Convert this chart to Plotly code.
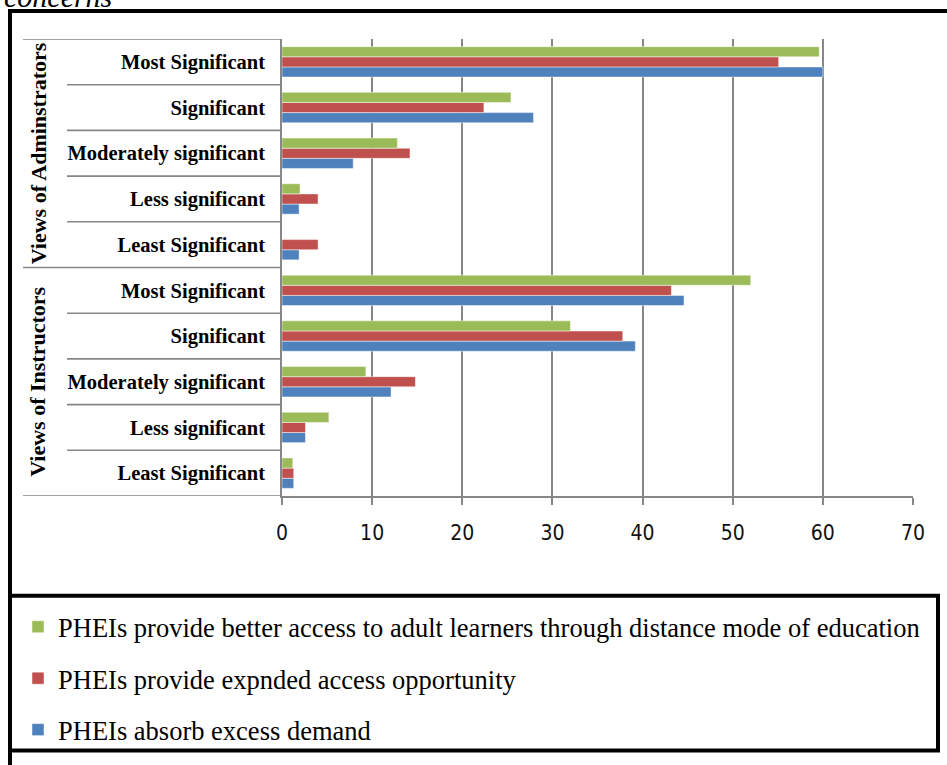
import plotly.graph_objects as go

# Categories listed top to bottom as read in the chart
categories = ["Most Significant", "Significant", "Moderately significant",
              "Less significant", "Least Significant",
              "Most Significant", "Significant", "Moderately significant",
              "Less significant", "Least Significant"]
groups = ["Views of Adminstrators", "Views of Instructors"]

series_names = ["PHEIs absorb excess demand",
                "PHEIs provide expnded access opportunity",
                "PHEIs provide better access to adult learners through distance mode of education"]

absorb_demand = [60.0, 27.9, 7.9, 1.9, 1.9, 44.6, 39.2, 12.1, 2.6, 1.3]
expanded_access = [55.1, 22.4, 14.2, 4.0, 4.0, 43.2, 37.8, 14.8, 2.6, 1.3]
adult_learners = [59.6, 25.4, 12.8, 2.0, 0.0, 52.0, 32.0, 9.3, 5.2, 1.2]

colors = ["#4F81BD", "#C0504D", "#9BBB59"]
legend_ranks = [3, 2, 1]
x_ticks = [0, 10, 20, 30, 40, 50, 60, 70]

n = len(categories)
ypos = list(range(n - 1, -1, -1))  # top category gets the highest position

W, H = 947, 765
L, R, T, B = 282, 34, 39, 268
pw, ph = W - L - R, H - T - B


def px_x(px):
    return (px - L) / pw


def px_y(py):
    return (H - B - py) / ph


fig = go.Figure()
for name, vals, col, rk in zip(series_names, [absorb_demand, expanded_access, adult_learners],
                               colors, legend_ranks):
    fig.add_trace(go.Bar(
        y=ypos, x=vals, orientation="h", name=name,
        marker=dict(color=col, line=dict(color="rgba(255,255,255,0.6)", width=0.8)),
        legendgroup=name, legendrank=rk,
    ))

grid = "#878787"
shapes = []
# category separator lines extending left of the axis
for k in range(-1, n):
    yv = k + 0.5
    full = k in (-1, 4, 9)
    shapes.append(dict(type="line", xref="paper", yref="y",
                       x0=px_x(23 if full else 67), x1=0, y0=yv, y1=yv,
                       line=dict(color=grid, width=1.6)))
# outer frame
shapes.append(dict(type="rect", xref="paper", yref="paper",
                   x0=px_x(10), x1=px_x(990), y0=px_y(790), y1=px_y(11),
                   line=dict(color="black", width=4)))
# legend box
shapes.append(dict(type="rect", xref="paper", yref="paper",
                   x0=px_x(10), x1=px_x(938), y0=px_y(752), y1=px_y(597),
                   line=dict(color="black", width=4)))

grp_font = dict(family="Liberation Serif", size=22, color="black", weight="bold")
annotations = [
    dict(text=groups[0], xref="paper", yref="y", x=px_x(38), y=7.0,
         textangle=-90, showarrow=False, xanchor="center", yanchor="middle", font=grp_font),
    dict(text=groups[1], xref="paper", yref="y", x=px_x(38), y=2.0,
         textangle=-90, showarrow=False, xanchor="center", yanchor="middle", font=grp_font),
    dict(text="<i>concerns</i>", xref="paper", yref="paper", x=px_x(2), y=px_y(15),
         xanchor="left", yanchor="bottom", showarrow=False,
         font=dict(family="Liberation Serif", size=30, color="black")),
]

fig.update_layout(
    width=W, height=H,
    margin=dict(l=L, r=R, t=T, b=B),
    paper_bgcolor="white", plot_bgcolor="white",
    barmode="group", bargap=0.335, bargroupgap=0,
    shapes=shapes, annotations=annotations,
    showlegend=True,
    legend=dict(x=px_x(18), y=px_y(603), xanchor="left", yanchor="top",
                traceorder="grouped", tracegroupgap=14,
                font=dict(family="Liberation Serif", size=26.5, color="black"),
                bgcolor="rgba(0,0,0,0)", itemwidth=30),
    xaxis=dict(range=[0, 70], tickvals=x_ticks, showgrid=True, gridcolor=grid, gridwidth=1.6,
               showline=True, linecolor=grid, linewidth=1.6, ticks="outside", ticklen=7,
               tickcolor=grid, tickwidth=1.6, zeroline=False, ticklabelstandoff=10,
               tickfont=dict(family="Liberation Sans Narrow, DejaVu Sans Condensed, Arial", size=21, color="#111")),
    yaxis=dict(range=[-0.5, n - 0.5], tickvals=ypos, ticktext=categories, showgrid=False,
               showline=True, linecolor=grid, linewidth=1.6, ticks="", zeroline=False,
               ticklabelstandoff=11,
               tickfont=dict(family="Liberation Serif", size=20.5, color="black", weight="bold")),
)

fig.write_html("out.html", post_script="document.body.style.margin='0';",
               config={"displayModeBar": False})
